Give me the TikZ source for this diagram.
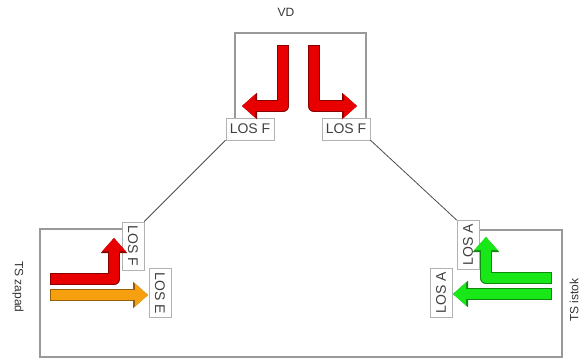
\documentclass[tikz,border=0pt]{standalone}
\usepackage{fontspec}
\setmainfont{Liberation Sans}
\usepackage{xcolor}
\usetikzlibrary{arrows.meta}

\definecolor{losred}{RGB}{232,0,0}
\definecolor{losorange}{RGB}{246,160,16}
\definecolor{losgreen}{RGB}{24,232,24}

\begin{document}
\begin{tikzpicture}[
			x=1pt, y=-1pt,
			frame/.style={draw=black!40, line width=1.5pt},
			los/.style={draw=black!30, fill=white, text=black!75, inner xsep=4pt, minimum height=22pt, font=\fontsize{14}{16}\selectfont},
			caption/.style={text=black!80, inner sep=1pt, font=\fontsize{12}{14}\selectfont},
			link/.style={draw=black!70, line width=0.8pt},
			flow/.style={draw=#1, line width=10.5pt, line join=round, shorten <=1pt,
				-{Triangle[width=23pt,length=13pt,line width=0pt]},
				preaction={draw=#1!60!black, line width=12.5pt, line join=round, shorten <=0pt,
					-{Triangle[width=26.5pt,length=15pt,line width=0pt]}}}
			]
			\useasboundingbox (0,0) rectangle (587,364);
			
			% Frames
			\draw [frame] (235,125) -- (235,33) -- (366,33) -- (366,125);
			\draw [frame] (128,229) -- (40,229) -- (40,357) -- (562,357) -- (562,230) -- (470,230);
			
			% Nodes
			\node (vd) [caption] at (286,12) {VD};
			\node (west) [caption, rotate=-90] at (18,287) {TS zapad};
			\node (east) [caption, rotate=90] at (574,300) {TS istok};
			\node (top_left) [los] at (250,129) {LOS F};
			\node (top_right) [los] at (346,129) {LOS F};
			\node (west_f) [los, rotate=-90] at (133,246) {LOS F};
			\node (west_e) [los, rotate=-90] at (160,293) {LOS E};
			\node (east_up) [los, rotate=90] at (468,245) {LOS A};
			\node (east_left) [los, rotate=90] at (441,293) {LOS A};
			
			% Connections
			\draw [link] (top_left.south west) -- (west_f.north west);
			\draw [link] (top_right.south east) -- (east_up.north east);
			
			% Flows
			\draw [flow=losred] (283,45) -- (283,106) -- (242,106);
			\draw [flow=losred] (314,45) -- (314,106) -- (357,106);
			\draw [flow=losred] (50,279) -- (114,279) -- (114,238);
			\draw [flow=losorange] (50,295) -- (148,295);
			\draw [flow=losgreen] (552,278) -- (486,278) -- (486,237);
			\draw [flow=losgreen] (552,294) -- (453,294);
			
		\end{tikzpicture}
\end{document}
